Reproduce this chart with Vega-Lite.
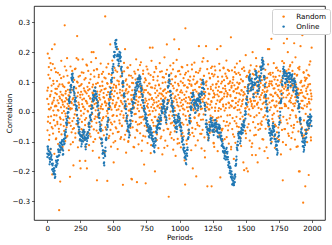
{
"$schema": "https://vega.github.io/schema/vega-lite/v6.json",
"width": 291, "height": 214,
"autosize": {"type": "none"},
"padding": {"left": 34, "top": 6, "right": 7, "bottom": 25},
"background": "white",
"config": {
 "font": "DejaVu Sans",
 "view": {"stroke": "#000", "strokeWidth": 0.8},
 "axis": {"domain": false, "grid": false, "tickColor": "#000", "tickSize": 2.5, "tickWidth": 0.6, "labelFontSize": 7.2, "labelColor": "#000", "labelFont": "DejaVu Sans", "titleFont": "DejaVu Sans", "titleFontSize": 7.2, "titleFontWeight": "normal", "titleColor": "#000", "labelPadding": 2},
 "legend": {"orient": "none", "legendX": 238, "legendY": 3, "strokeColor": "#d0d0d0", "fillColor": "white", "cornerRadius": 2, "padding": 4, "symbolType": "circle", "symbolSize": 6, "labelFontSize": 7.2, "labelFont": "DejaVu Sans", "labelColor": "#000", "rowPadding": 2, "symbolOffset": 4, "labelOffset": 9, "title": null}
},
"datasets": {
"random": [
{"p":0,"v":0.043},{"p":2,"v":-0.062},{"p":4,"v":0.195},{"p":6,"v":0.081},{"p":8,"v":-0.017},{"p":10,"v":0.026},{"p":12,"v":0.15},{"p":14,"v":-0.094},{"p":16,"v":0.18},{"p":18,"v":0.008},
{"p":20,"v":0.112},{"p":22,"v":-0.038},{"p":24,"v":0.057},{"p":26,"v":-0.126},{"p":28,"v":0.014},{"p":30,"v":0.14},{"p":32,"v":0.069},{"p":34,"v":-0.051},{"p":36,"v":0.21},{"p":38,"v":-0.21},
{"p":40,"v":0.032},{"p":42,"v":0.16},{"p":44,"v":-0.073},{"p":46,"v":0.004},{"p":48,"v":0.094},{"p":50,"v":-0.028},{"p":52,"v":0.047},{"p":54,"v":-0.141},{"p":56,"v":0.226},{"p":58,"v":0.018},
{"p":60,"v":-0.046},{"p":62,"v":0.077},{"p":64,"v":0.021},{"p":66,"v":0.133},{"p":68,"v":-0.089},{"p":70,"v":-0.012},{"p":72,"v":0.059},{"p":74,"v":0.103},{"p":76,"v":-0.034},{"p":78,"v":0.038},
{"p":80,"v":0.006},{"p":82,"v":-0.108},{"p":84,"v":0.085},{"p":86,"v":0.029},{"p":88,"v":-0.057},{"p":90,"v":-0.33},{"p":92,"v":0.051},{"p":94,"v":0.124},{"p":96,"v":-0.019},{"p":98,"v":-0.234},
{"p":100,"v":0.067},{"p":102,"v":-0.043},{"p":104,"v":0.015},{"p":106,"v":0.171},{"p":108,"v":-0.076},{"p":110,"v":0.039},{"p":112,"v":-0.004},{"p":114,"v":0.092},{"p":116,"v":-0.118},{"p":118,"v":0.024},
{"p":120,"v":0.055},{"p":122,"v":-0.027},{"p":124,"v":0.118},{"p":126,"v":0.002},{"p":128,"v":-0.064},{"p":130,"v":0.083},{"p":132,"v":0.29},{"p":134,"v":0.035},{"p":136,"v":-0.098},{"p":138,"v":0.061},
{"p":140,"v":-0.015},{"p":142,"v":0.046},{"p":144,"v":0.139},{"p":146,"v":-0.052},{"p":148,"v":0.012},{"p":150,"v":0.18},{"p":152,"v":-0.081},{"p":154,"v":0.027},{"p":156,"v":0.074},{"p":158,"v":-0.036},
{"p":160,"v":0.097},{"p":162,"v":0.019},{"p":164,"v":-0.129},{"p":166,"v":0.054},{"p":168,"v":-0.022},{"p":170,"v":0.065},{"p":172,"v":-0.218},{"p":174,"v":0.008},{"p":176,"v":0.152},{"p":178,"v":-0.047},
{"p":180,"v":0.033},{"p":182,"v":0.088},{"p":184,"v":-0.069},{"p":186,"v":0.011},{"p":188,"v":0.126},{"p":190,"v":-0.031},{"p":192,"v":0.042},{"p":194,"v":-0.102},{"p":196,"v":0.073},{"p":198,"v":-0.18},
{"p":200,"v":0.023},{"p":202,"v":-0.055},{"p":204,"v":0.107},{"p":206,"v":0.061},{"p":208,"v":-0.009},{"p":210,"v":0.036},{"p":212,"v":-0.087},{"p":214,"v":0.145},{"p":216,"v":0.004},{"p":218,"v":0.079},
{"p":220,"v":-0.041},{"p":222,"v":0.18},{"p":224,"v":-0.013},{"p":226,"v":0.254},{"p":228,"v":0.052},{"p":230,"v":0.098},{"p":232,"v":-0.119},{"p":234,"v":0.175},{"p":236,"v":0.031},{"p":238,"v":-0.066},
{"p":240,"v":0.014},{"p":242,"v":0.086},{"p":244,"v":-0.025},{"p":246,"v":-0.165},{"p":248,"v":0.121},{"p":250,"v":0.048},{"p":252,"v":-0.19},{"p":254,"v":0.003},{"p":256,"v":0.067},{"p":258,"v":-0.058},
{"p":260,"v":0.093},{"p":262,"v":-0.034},{"p":264,"v":0.026},{"p":266,"v":0.058},{"p":268,"v":0.176},{"p":270,"v":-0.078},{"p":272,"v":0.017},{"p":274,"v":0.131},{"p":276,"v":-0.006},{"p":278,"v":0.044},
{"p":280,"v":-0.095},{"p":282,"v":0.071},{"p":284,"v":0.009},{"p":286,"v":-0.045},{"p":288,"v":-0.165},{"p":290,"v":0.113},{"p":292,"v":0.037},{"p":294,"v":-0.021},{"p":296,"v":0.158},{"p":298,"v":0.062},
{"p":300,"v":-0.19},{"p":302,"v":0.028},{"p":304,"v":0.084},{"p":306,"v":-0.068},{"p":308,"v":0.001},{"p":310,"v":0.137},{"p":312,"v":-0.039},{"p":314,"v":0.053},{"p":316,"v":-0.112},{"p":318,"v":0.019},
{"p":320,"v":0.076},{"p":322,"v":-0.016},{"p":324,"v":0.045},{"p":326,"v":0.109},{"p":328,"v":-0.083},{"p":330,"v":0.022},{"p":332,"v":0.167},{"p":334,"v":-0.049},{"p":336,"v":0.2},{"p":338,"v":0.034},
{"p":340,"v":-0.007},{"p":342,"v":0.064},{"p":344,"v":-0.131},{"p":346,"v":0.091},{"p":348,"v":0.013},{"p":350,"v":0.2},{"p":352,"v":-0.059},{"p":354,"v":0.039},{"p":356,"v":0.118},{"p":358,"v":-0.024},
{"p":360,"v":0.051},{"p":362,"v":-0.092},{"p":364,"v":0.082},{"p":366,"v":0.005},{"p":368,"v":0.18},{"p":370,"v":0.029},{"p":372,"v":-0.037},{"p":374,"v":0.143},{"p":376,"v":-0.23},{"p":378,"v":0.068},
{"p":380,"v":-0.018},{"p":382,"v":0.097},{"p":384,"v":0.036},{"p":386,"v":-0.071},{"p":388,"v":0.011},{"p":390,"v":0.124},{"p":392,"v":-0.154},{"p":394,"v":0.057},{"p":396,"v":-0.003},{"p":398,"v":0.086},
{"p":400,"v":0.041},{"p":402,"v":-0.044},{"p":404,"v":0.162},{"p":406,"v":0.018},{"p":408,"v":-0.106},{"p":410,"v":0.073},{"p":412,"v":-0.029},{"p":414,"v":0.025},{"p":416,"v":0.101},{"p":418,"v":-0.062},
{"p":420,"v":0.009},{"p":422,"v":0.134},{"p":424,"v":-0.018},{"p":426,"v":0.063},{"p":428,"v":-0.079},{"p":430,"v":0.047},{"p":432,"v":0.115},{"p":434,"v":-0.136},{"p":436,"v":0.031},{"p":438,"v":0.32},
{"p":440,"v":-0.052},{"p":442,"v":0.078},{"p":444,"v":0.021},{"p":446,"v":-0.015},{"p":448,"v":0.149},{"p":450,"v":0.056},{"p":452,"v":0.003},{"p":454,"v":-0.232},{"p":456,"v":0.094},{"p":458,"v":-0.035},
{"p":460,"v":0.066},{"p":462,"v":0.012},{"p":464,"v":-0.088},{"p":466,"v":0.127},{"p":468,"v":0.038},{"p":470,"v":-0.026},{"p":472,"v":0.084},{"p":474,"v":0.017},{"p":476,"v":0.226},{"p":478,"v":-0.061},
{"p":480,"v":0.043},{"p":482,"v":-0.117},{"p":484,"v":0.096},{"p":486,"v":0.007},{"p":488,"v":0.059},{"p":490,"v":-0.042},{"p":492,"v":0.172},{"p":494,"v":0.028},{"p":496,"v":-0.073},{"p":498,"v":0.081},
{"p":500,"v":-0.011},{"p":502,"v":-0.17},{"p":504,"v":0.052},{"p":506,"v":0.114},{"p":508,"v":-0.033},{"p":510,"v":0.069},{"p":512,"v":0.016},{"p":514,"v":-0.098},{"p":516,"v":0.139},{"p":518,"v":0.024},
{"p":520,"v":0.087},{"p":522,"v":-0.056},{"p":524,"v":0.031},{"p":526,"v":-0.014},{"p":528,"v":0.062},{"p":530,"v":0.105},{"p":532,"v":-0.125},{"p":534,"v":0.21},{"p":536,"v":0.045},{"p":538,"v":0.008},
{"p":540,"v":-0.067},{"p":542,"v":0.092},{"p":544,"v":0.153},{"p":546,"v":0.019},{"p":548,"v":-0.039},{"p":550,"v":0.074},{"p":552,"v":-0.009},{"p":554,"v":0.118},{"p":556,"v":0.037},{"p":558,"v":-0.085},
{"p":560,"v":0.055},{"p":562,"v":0.002},{"p":564,"v":-0.048},{"p":566,"v":0.133},{"p":568,"v":0.071},{"p":570,"v":0.026},{"p":572,"v":-0.245},{"p":574,"v":0.089},{"p":576,"v":-0.02},{"p":578,"v":0.047},
{"p":580,"v":0.164},{"p":582,"v":-0.093},{"p":584,"v":0.013},{"p":586,"v":0.061},{"p":588,"v":0.21},{"p":590,"v":-0.031},{"p":592,"v":0.104},{"p":594,"v":0.035},{"p":596,"v":-0.137},{"p":598,"v":0.076},
{"p":600,"v":0.018},{"p":602,"v":-0.064},{"p":604,"v":0.091},{"p":606,"v":0.148},{"p":608,"v":-0.012},{"p":610,"v":0.042},{"p":612,"v":-0.101},{"p":614,"v":0.067},{"p":616,"v":0.004},{"p":618,"v":0.122},
{"p":620,"v":-0.045},{"p":622,"v":0.083},{"p":624,"v":0.027},{"p":626,"v":-0.079},{"p":628,"v":0.157},{"p":630,"v":0.009},{"p":632,"v":-0.029},{"p":634,"v":0.056},{"p":636,"v":-0.225},{"p":638,"v":0.038},
{"p":640,"v":-0.227},{"p":642,"v":0.072},{"p":644,"v":0.114},{"p":646,"v":-0.052},{"p":648,"v":0.021},{"p":650,"v":0.096},{"p":652,"v":-0.118},{"p":654,"v":0.043},{"p":656,"v":0.015},{"p":658,"v":0.135},
{"p":660,"v":-0.008},{"p":662,"v":0.061},{"p":664,"v":-0.087},{"p":666,"v":0.029},{"p":668,"v":0.108},{"p":670,"v":-0.034},{"p":672,"v":0.176},{"p":674,"v":0.052},{"p":676,"v":-0.061},{"p":678,"v":-0.236},
{"p":680,"v":0.093},{"p":682,"v":0.011},{"p":684,"v":-0.043},{"p":686,"v":0.141},{"p":688,"v":0.034},{"p":690,"v":-0.109},{"p":692,"v":0.068},{"p":694,"v":0.002},{"p":696,"v":0.117},{"p":698,"v":-0.019},
{"p":700,"v":0.049},{"p":702,"v":-0.072},{"p":704,"v":0.086},{"p":706,"v":0.023},{"p":708,"v":0.166},{"p":710,"v":-0.037},{"p":712,"v":0.058},{"p":714,"v":-0.131},{"p":716,"v":0.014},{"p":718,"v":0.079},
{"p":720,"v":0.038},{"p":722,"v":-0.016},{"p":724,"v":0.127},{"p":726,"v":-0.081},{"p":728,"v":0.065},{"p":730,"v":0.006},{"p":732,"v":-0.177},{"p":734,"v":0.099},{"p":736,"v":-0.047},{"p":738,"v":0.031},
{"p":740,"v":0.112},{"p":742,"v":0.044},{"p":744,"v":-0.24},{"p":746,"v":0.073},{"p":748,"v":-0.024},{"p":750,"v":0.152},{"p":752,"v":-0.063},{"p":754,"v":0.019},{"p":756,"v":0.087},{"p":758,"v":-0.105},
{"p":760,"v":0.027},{"p":762,"v":0.064},{"p":764,"v":-0.011},{"p":766,"v":0.128},{"p":768,"v":-0.054},{"p":770,"v":0.041},{"p":772,"v":0.003},{"p":774,"v":0.095},{"p":776,"v":0.215},{"p":778,"v":-0.076},
{"p":780,"v":0.057},{"p":782,"v":-0.139},{"p":784,"v":0.082},{"p":786,"v":0.016},{"p":788,"v":0.171},{"p":790,"v":-0.028},{"p":792,"v":0.046},{"p":794,"v":-0.089},{"p":796,"v":0.215},{"p":798,"v":0.024},
{"p":800,"v":-0.036},{"p":802,"v":0.107},{"p":804,"v":0.039},{"p":806,"v":-0.068},{"p":808,"v":0.012},{"p":810,"v":0.133},{"p":812,"v":-0.017},{"p":814,"v":-0.2},{"p":816,"v":0.063},{"p":818,"v":0.088},
{"p":820,"v":0.005},{"p":822,"v":-0.048},{"p":824,"v":0.145},{"p":826,"v":0.032},{"p":828,"v":-0.095},{"p":830,"v":0.071},{"p":832,"v":0.018},{"p":834,"v":-0.026},{"p":836,"v":0.119},{"p":838,"v":0.054},
{"p":840,"v":-0.122},{"p":842,"v":0.036},{"p":844,"v":0.091},{"p":846,"v":-0.009},{"p":848,"v":0.062},{"p":850,"v":0.163},{"p":852,"v":-0.057},{"p":854,"v":0.025},{"p":856,"v":0.078},{"p":858,"v":-0.031},
{"p":860,"v":0.044},{"p":862,"v":-0.083},{"p":864,"v":0.011},{"p":866,"v":0.136},{"p":868,"v":0.058},{"p":870,"v":-0.143},{"p":872,"v":0.097},{"p":874,"v":-0.004},{"p":876,"v":0.069},{"p":878,"v":0.021},
{"p":880,"v":-0.062},{"p":882,"v":0.115},{"p":884,"v":0.034},{"p":886,"v":0.183},{"p":888,"v":-0.019},{"p":890,"v":0.075},{"p":892,"v":-0.097},{"p":894,"v":0.048},{"p":896,"v":0.008},{"p":898,"v":0.127},
{"p":900,"v":0.063},{"p":902,"v":-0.041},{"p":904,"v":0.226},{"p":906,"v":0.015},{"p":908,"v":-0.114},{"p":910,"v":0.086},{"p":912,"v":0.029},{"p":914,"v":-0.058},{"p":916,"v":0.104},{"p":918,"v":-0.285},
{"p":920,"v":0.039},{"p":922,"v":0.122},{"p":924,"v":-0.023},{"p":926,"v":0.067},{"p":928,"v":-0.076},{"p":930,"v":0.155},{"p":932,"v":0.001},{"p":934,"v":-0.039},{"p":936,"v":0.093},{"p":938,"v":0.046},
{"p":940,"v":-0.088},{"p":942,"v":0.027},{"p":944,"v":0.109},{"p":946,"v":-0.014},{"p":948,"v":0.061},{"p":950,"v":0.142},{"p":952,"v":-0.127},{"p":954,"v":0.035},{"p":956,"v":0.079},{"p":958,"v":-0.046},
{"p":960,"v":0.243},{"p":962,"v":0.013},{"p":964,"v":-0.066},{"p":966,"v":0.098},{"p":968,"v":0.052},{"p":970,"v":-0.148},{"p":972,"v":0.119},{"p":974,"v":-0.011},{"p":976,"v":0.041},{"p":978,"v":0.174},
{"p":980,"v":-0.033},{"p":982,"v":0.074},{"p":984,"v":0.022},{"p":986,"v":-0.091},{"p":988,"v":0.136},{"p":990,"v":0.057},{"p":992,"v":-0.018},{"p":994,"v":0.088},{"p":996,"v":0.21},{"p":998,"v":-0.105},
{"p":1000,"v":0.046},{"p":1002,"v":0.005},{"p":1004,"v":-0.052},{"p":1006,"v":0.126},{"p":1008,"v":0.031},{"p":1010,"v":-0.119},{"p":1012,"v":0.072},{"p":1014,"v":0.019},{"p":1016,"v":0.151},{"p":1018,"v":-0.037},
{"p":1020,"v":0.064},{"p":1022,"v":-0.071},{"p":1024,"v":0.097},{"p":1026,"v":0.024},{"p":1028,"v":-0.009},{"p":1030,"v":0.113},{"p":1032,"v":-0.082},{"p":1034,"v":0.042},{"p":1036,"v":0.007},{"p":1038,"v":-0.163},
{"p":1040,"v":0.089},{"p":1042,"v":-0.244},{"p":1044,"v":0.28},{"p":1046,"v":0.035},{"p":1048,"v":0.131},{"p":1050,"v":-0.026},{"p":1052,"v":0.068},{"p":1054,"v":-0.108},{"p":1056,"v":0.015},{"p":1058,"v":0.157},
{"p":1060,"v":-0.044},{"p":1062,"v":0.081},{"p":1064,"v":0.002},{"p":1066,"v":0.107},{"p":1068,"v":-0.063},{"p":1070,"v":0.049},{"p":1072,"v":-0.014},{"p":1074,"v":0.094},{"p":1076,"v":0.028},{"p":1078,"v":-0.077},
{"p":1080,"v":0.118},{"p":1082,"v":0.039},{"p":1084,"v":-0.031},{"p":1086,"v":0.063},{"p":1088,"v":-0.129},{"p":1090,"v":0.087},{"p":1092,"v":0.016},{"p":1094,"v":0.142},{"p":1096,"v":-0.054},{"p":1098,"v":0.024},
{"p":1100,"v":-0.19},{"p":1102,"v":0.072},{"p":1104,"v":0.108},{"p":1106,"v":0.009},{"p":1108,"v":-0.082},{"p":1110,"v":0.051},{"p":1112,"v":0.165},{"p":1114,"v":-0.021},{"p":1116,"v":0.036},{"p":1118,"v":0.093},
{"p":1120,"v":-0.058},{"p":1122,"v":0.026},{"p":1124,"v":0.133},{"p":1126,"v":-0.217},{"p":1128,"v":0.068},{"p":1130,"v":0.004},{"p":1132,"v":-0.037},{"p":1134,"v":0.101},{"p":1136,"v":0.045},{"p":1138,"v":-0.096},
{"p":1140,"v":0.018},{"p":1142,"v":0.062},{"p":1144,"v":-0.013},{"p":1146,"v":0.22},{"p":1148,"v":0.083},{"p":1150,"v":-0.048},{"p":1152,"v":0.138},{"p":1154,"v":0.027},{"p":1156,"v":-0.074},{"p":1158,"v":0.109},
{"p":1160,"v":0.041},{"p":1162,"v":-0.027},{"p":1164,"v":0.092},{"p":1166,"v":-0.123},{"p":1168,"v":0.055},{"p":1170,"v":0.011},{"p":1172,"v":0.168},{"p":1174,"v":-0.061},{"p":1176,"v":0.034},{"p":1178,"v":0.079},
{"p":1180,"v":0.18},{"p":1182,"v":-0.009},{"p":1184,"v":0.121},{"p":1186,"v":0.047},{"p":1188,"v":-0.086},{"p":1190,"v":0.022},{"p":1192,"v":-0.153},{"p":1194,"v":0.066},{"p":1196,"v":0.003},{"p":1198,"v":0.098},
{"p":1200,"v":0.22},{"p":1202,"v":0.031},{"p":1204,"v":0.102},{"p":1206,"v":-0.052},{"p":1208,"v":0.015},{"p":1210,"v":-0.25},{"p":1212,"v":0.17},{"p":1214,"v":0.077},{"p":1216,"v":-0.094},{"p":1218,"v":0.043},
{"p":1220,"v":0.008},{"p":1222,"v":0.129},{"p":1224,"v":-0.035},{"p":1226,"v":0.059},{"p":1228,"v":-0.071},{"p":1230,"v":0.112},{"p":1232,"v":0.024},{"p":1234,"v":-0.013},{"p":1236,"v":0.084},{"p":1238,"v":0.147},
{"p":1240,"v":0.036},{"p":1242,"v":-0.25},{"p":1244,"v":0.014},{"p":1246,"v":0.152},{"p":1248,"v":-0.067},{"p":1250,"v":0.091},{"p":1252,"v":0.048},{"p":1254,"v":-0.029},{"p":1256,"v":0.119},{"p":1258,"v":-0.106},
{"p":1260,"v":0.062},{"p":1262,"v":-0.118},{"p":1264,"v":0.125},{"p":1266,"v":0.057},{"p":1268,"v":0.003},{"p":1270,"v":0.139},{"p":1272,"v":-0.041},{"p":1274,"v":0.081},{"p":1276,"v":0.027},{"p":1278,"v":-0.056},
{"p":1280,"v":0.094},{"p":1282,"v":-0.021},{"p":1284,"v":0.21},{"p":1286,"v":0.038},{"p":1288,"v":-0.132},{"p":1290,"v":0.071},{"p":1292,"v":0.102},{"p":1294,"v":-0.019},{"p":1296,"v":0.052},{"p":1298,"v":0.012},
{"p":1300,"v":0.161},{"p":1302,"v":-0.083},{"p":1304,"v":0.033},{"p":1306,"v":0.066},{"p":1308,"v":-0.22},{"p":1310,"v":0.22},{"p":1312,"v":0.009},{"p":1314,"v":0.095},{"p":1316,"v":-0.059},{"p":1318,"v":0.042},
{"p":1320,"v":-0.063},{"p":1322,"v":0.118},{"p":1324,"v":0.045},{"p":1326,"v":-0.097},{"p":1328,"v":0.079},{"p":1330,"v":0.018},{"p":1332,"v":0.148},{"p":1334,"v":-0.031},{"p":1336,"v":0.106},{"p":1338,"v":0.061},
{"p":1340,"v":0.004},{"p":1342,"v":-0.139},{"p":1344,"v":0.087},{"p":1346,"v":0.128},{"p":1348,"v":-0.047},{"p":1350,"v":0.069},{"p":1352,"v":0.025},{"p":1354,"v":0.172},{"p":1356,"v":-0.085},{"p":1358,"v":0.051},
{"p":1360,"v":0.113},{"p":1362,"v":-0.012},{"p":1364,"v":0.058},{"p":1366,"v":-0.062},{"p":1368,"v":0.094},{"p":1370,"v":0.031},{"p":1372,"v":-0.107},{"p":1374,"v":0.137},{"p":1376,"v":0.014},{"p":1378,"v":0.073},
{"p":1380,"v":-0.039},{"p":1382,"v":0.102},{"p":1384,"v":0.056},{"p":1386,"v":0.022},{"p":1388,"v":0.25},{"p":1390,"v":-0.118},{"p":1392,"v":0.081},{"p":1394,"v":0.018},{"p":1396,"v":0.139},{"p":1398,"v":-0.058},
{"p":1400,"v":0.097},{"p":1402,"v":0.037},{"p":1404,"v":-0.076},{"p":1406,"v":0.116},{"p":1408,"v":0.068},{"p":1410,"v":-0.158},{"p":1412,"v":0.012},{"p":1414,"v":0.089},{"p":1416,"v":-0.031},{"p":1418,"v":0.149},
{"p":1420,"v":0.046},{"p":1422,"v":-0.104},{"p":1424,"v":0.076},{"p":1426,"v":0.029},{"p":1428,"v":0.127},{"p":1430,"v":-0.017},{"p":1432,"v":0.063},{"p":1434,"v":-0.049},{"p":1436,"v":0.098},{"p":1438,"v":0.006},
{"p":1440,"v":-0.113},{"p":1442,"v":0.082},{"p":1444,"v":0.034},{"p":1446,"v":0.131},{"p":1448,"v":-0.051},{"p":1450,"v":0.062},{"p":1452,"v":0.007},{"p":1454,"v":0.096},{"p":1456,"v":0.17},{"p":1458,"v":-0.024},
{"p":1460,"v":0.058},{"p":1462,"v":-0.088},{"p":1464,"v":0.109},{"p":1466,"v":0.019},{"p":1468,"v":0.073},{"p":1470,"v":-0.042},{"p":1472,"v":0.144},{"p":1474,"v":0.026},{"p":1476,"v":-0.016},{"p":1478,"v":0.102},
{"p":1480,"v":0.041},{"p":1482,"v":-0.17},{"p":1484,"v":0.066},{"p":1486,"v":-0.028},{"p":1488,"v":-0.196},{"p":1490,"v":0.137},{"p":1492,"v":0.059},{"p":1494,"v":0.083},{"p":1496,"v":-0.064},{"p":1498,"v":0.012},
{"p":1500,"v":0.19},{"p":1502,"v":-0.073},{"p":1504,"v":0.044},{"p":1506,"v":-0.19},{"p":1508,"v":0.052},{"p":1510,"v":0.121},{"p":1512,"v":0.017},{"p":1514,"v":0.078},{"p":1516,"v":-0.2},{"p":1518,"v":0.032},
{"p":1520,"v":0.091},{"p":1522,"v":-0.041},{"p":1524,"v":0.132},{"p":1526,"v":0.008},{"p":1528,"v":0.069},{"p":1530,"v":-0.097},{"p":1532,"v":0.113},{"p":1534,"v":0.043},{"p":1536,"v":-0.014},{"p":1538,"v":0.156},
{"p":1540,"v":0.036},{"p":1542,"v":0.074},{"p":1544,"v":-0.118},{"p":1546,"v":0.026},{"p":1548,"v":-0.145},{"p":1550,"v":0.087},{"p":1552,"v":0.2},{"p":1554,"v":0.012},{"p":1556,"v":-0.035},{"p":1558,"v":0.081},
{"p":1560,"v":0.059},{"p":1562,"v":0.124},{"p":1564,"v":-0.079},{"p":1566,"v":0.018},{"p":1568,"v":0.142},{"p":1570,"v":0.037},{"p":1572,"v":-0.053},{"p":1574,"v":0.096},{"p":1576,"v":-0.145},{"p":1578,"v":0.18},
{"p":1580,"v":0.051},{"p":1582,"v":-0.012},{"p":1584,"v":0.089},{"p":1586,"v":0.024},{"p":1588,"v":0.064},{"p":1590,"v":-0.17},{"p":1592,"v":0.031},{"p":1594,"v":0.103},{"p":1596,"v":-0.061},{"p":1598,"v":0.135},
{"p":1600,"v":0.072},{"p":1602,"v":-0.004},{"p":1604,"v":-0.123},{"p":1606,"v":0.083},{"p":1608,"v":0.152},{"p":1610,"v":0.041},{"p":1612,"v":-0.039},{"p":1614,"v":0.117},{"p":1616,"v":0.056},{"p":1618,"v":0.009},
{"p":1620,"v":-0.044},{"p":1622,"v":0.106},{"p":1624,"v":0.063},{"p":1626,"v":-0.092},{"p":1628,"v":0.027},{"p":1630,"v":0.173},{"p":1632,"v":0.089},{"p":1634,"v":-0.018},{"p":1636,"v":0.121},{"p":1638,"v":0.047},
{"p":1640,"v":0.053},{"p":1642,"v":-0.132},{"p":1644,"v":0.081},{"p":1646,"v":0.014},{"p":1648,"v":0.141},{"p":1650,"v":-0.057},{"p":1652,"v":0.033},{"p":1654,"v":0.098},{"p":1656,"v":-0.026},{"p":1658,"v":0.067},
{"p":1660,"v":0.003},{"p":1662,"v":0.114},{"p":1664,"v":0.071},{"p":1666,"v":-0.155},{"p":1668,"v":0.21},{"p":1670,"v":0.045},{"p":1672,"v":-0.049},{"p":1674,"v":0.127},{"p":1676,"v":0.086},{"p":1678,"v":0.21},
{"p":1680,"v":0.031},{"p":1682,"v":0.102},{"p":1684,"v":-0.072},{"p":1686,"v":0.058},{"p":1688,"v":0.124},{"p":1690,"v":0.015},{"p":1692,"v":0.094},{"p":1694,"v":0.245},{"p":1696,"v":-0.101},{"p":1698,"v":0.037},
{"p":1700,"v":0.089},{"p":1702,"v":-0.011},{"p":1704,"v":0.131},{"p":1706,"v":0.052},{"p":1708,"v":-0.034},{"p":1710,"v":0.078},{"p":1712,"v":0.163},{"p":1714,"v":-0.083},{"p":1716,"v":0.021},{"p":1718,"v":0.108},
{"p":1720,"v":-0.121},{"p":1722,"v":0.062},{"p":1724,"v":0.016},{"p":1726,"v":0.117},{"p":1728,"v":-0.048},{"p":1730,"v":0.093},{"p":1732,"v":0.035},{"p":1734,"v":0.148},{"p":1736,"v":-0.069},{"p":1738,"v":0.057},
{"p":1740,"v":0.002},{"p":1742,"v":0.087},{"p":1744,"v":0.139},{"p":1746,"v":-0.053},{"p":1748,"v":0.074},{"p":1750,"v":0.029},{"p":1752,"v":-0.094},{"p":1754,"v":0.121},{"p":1756,"v":0.046},{"p":1758,"v":0.012},
{"p":1760,"v":0.068},{"p":1762,"v":-0.029},{"p":1764,"v":0.099},{"p":1766,"v":-0.143},{"p":1768,"v":0.041},{"p":1770,"v":0.106},{"p":1772,"v":0.056},{"p":1774,"v":-0.061},{"p":1776,"v":0.17},{"p":1778,"v":0.084},
{"p":1780,"v":-0.23},{"p":1782,"v":0.063},{"p":1784,"v":-0.017},{"p":1786,"v":0.129},{"p":1788,"v":0.23},{"p":1790,"v":0.077},{"p":1792,"v":-0.058},{"p":1794,"v":0.134},{"p":1796,"v":0.019},{"p":1798,"v":0.095},
{"p":1800,"v":0.024},{"p":1802,"v":0.091},{"p":1804,"v":-0.111},{"p":1806,"v":0.048},{"p":1808,"v":0.137},{"p":1810,"v":0.072},{"p":1812,"v":0.245},{"p":1814,"v":0.118},{"p":1816,"v":-0.039},{"p":1818,"v":0.2},
{"p":1820,"v":0.073},{"p":1822,"v":0.012},{"p":1824,"v":0.142},{"p":1826,"v":-0.081},{"p":1828,"v":0.061},{"p":1830,"v":0.099},{"p":1832,"v":-0.022},{"p":1834,"v":0.038},{"p":1836,"v":0.157},{"p":1838,"v":-0.126},
{"p":1840,"v":0.082},{"p":1842,"v":0.031},{"p":1844,"v":-0.047},{"p":1846,"v":0.113},{"p":1848,"v":0.054},{"p":1850,"v":0.006},{"p":1852,"v":0.166},{"p":1854,"v":-0.069},{"p":1856,"v":0.088},{"p":1858,"v":0.027},
{"p":1860,"v":0.109},{"p":1862,"v":-0.054},{"p":1864,"v":0.071},{"p":1866,"v":0.23},{"p":1868,"v":0.019},{"p":1870,"v":0.127},{"p":1872,"v":-0.093},{"p":1874,"v":0.049},{"p":1876,"v":0.183},{"p":1878,"v":-0.013},
{"p":1880,"v":0.092},{"p":1882,"v":0.038},{"p":1884,"v":-0.118},{"p":1886,"v":0.121},{"p":1888,"v":0.063},{"p":1890,"v":-0.034},{"p":1892,"v":0.079},{"p":1894,"v":0.011},{"p":1896,"v":0.147},{"p":1898,"v":-0.066},
{"p":1900,"v":0.056},{"p":1902,"v":-0.2},{"p":1904,"v":0.062},{"p":1906,"v":0.151},{"p":1908,"v":-0.2},{"p":1910,"v":0.027},{"p":1912,"v":0.098},{"p":1914,"v":0.22},{"p":1916,"v":-0.042},{"p":1918,"v":0.073},
{"p":1920,"v":0.104},{"p":1922,"v":0.013},{"p":1924,"v":-0.077},{"p":1926,"v":0.064},{"p":1928,"v":0.257},{"p":1930,"v":0.037},{"p":1932,"v":-0.085},{"p":1934,"v":-0.305},{"p":1936,"v":0.052},{"p":1938,"v":0.131},
{"p":1940,"v":-0.029},{"p":1942,"v":0.088},{"p":1944,"v":0.021},{"p":1946,"v":0.115},{"p":1948,"v":-0.061},{"p":1950,"v":-0.25},{"p":1952,"v":0.046},{"p":1954,"v":0.109},{"p":1956,"v":-0.068},{"p":1958,"v":0.078},
{"p":1960,"v":0.139},{"p":1962,"v":0.017},{"p":1964,"v":-0.102},{"p":1966,"v":0.059},{"p":1968,"v":0.084},{"p":1970,"v":-0.015},{"p":1972,"v":0.124},{"p":1974,"v":-0.05},{"p":1976,"v":-0.212},{"p":1978,"v":0.033},
{"p":1980,"v":0.121},{"p":1982,"v":0.028},{"p":1984,"v":-0.044},{"p":1986,"v":0.093},{"p":1988,"v":0.169},{"p":1990,"v":0.007},{"p":1992,"v":-0.086},{"p":1994,"v":0.061},{"p":1996,"v":0.042},{"p":1998,"v":0.215},
{"p":1,"v":0.071},{"p":5,"v":-0.033},{"p":9,"v":0.124},{"p":13,"v":0.009},{"p":17,"v":-0.078},{"p":21,"v":0.052},{"p":25,"v":0.163},{"p":29,"v":-0.015},{"p":33,"v":0.088},{"p":37,"v":0.027},
{"p":41,"v":-0.056},{"p":45,"v":0.104},{"p":49,"v":0.038},{"p":53,"v":-0.011},{"p":57,"v":0.146},{"p":61,"v":0.063},{"p":65,"v":-0.092},{"p":69,"v":0.019},{"p":73,"v":0.077},{"p":77,"v":-0.041},
{"p":81,"v":0.131},{"p":85,"v":0.004},{"p":89,"v":-0.067},{"p":93,"v":0.092},{"p":97,"v":0.045},{"p":101,"v":-0.024},{"p":105,"v":0.113},{"p":109,"v":0.058},{"p":113,"v":-0.127},{"p":117,"v":0.033},
{"p":121,"v":0.086},{"p":125,"v":-0.048},{"p":129,"v":0.017},{"p":133,"v":0.152},{"p":137,"v":-0.006},{"p":141,"v":0.069},{"p":145,"v":-0.085},{"p":149,"v":0.041},{"p":153,"v":0.121},{"p":157,"v":-0.019},
{"p":161,"v":0.055},{"p":165,"v":0.098},{"p":169,"v":-0.037},{"p":173,"v":0.012},{"p":177,"v":-0.109},{"p":181,"v":0.074},{"p":185,"v":0.029},{"p":189,"v":0.137},{"p":193,"v":-0.058},{"p":197,"v":0.046},
{"p":201,"v":-0.021},{"p":205,"v":0.083},{"p":209,"v":0.143},{"p":213,"v":-0.072},{"p":217,"v":0.036},{"p":221,"v":0.007},{"p":225,"v":0.101},{"p":229,"v":-0.043},{"p":233,"v":0.064},{"p":237,"v":0.118},
{"p":241,"v":0.024},{"p":245,"v":-0.096},{"p":249,"v":0.057},{"p":253,"v":0.089},{"p":257,"v":-0.013},{"p":261,"v":0.132},{"p":265,"v":0.041},{"p":269,"v":-0.061},{"p":273,"v":0.016},{"p":277,"v":0.079},
{"p":281,"v":0.108},{"p":285,"v":-0.027},{"p":289,"v":0.067},{"p":293,"v":-0.118},{"p":297,"v":0.034},{"p":301,"v":0.155},{"p":305,"v":0.003},{"p":309,"v":0.072},{"p":313,"v":-0.049},{"p":317,"v":0.097},
{"p":321,"v":-0.074},{"p":325,"v":0.045},{"p":329,"v":0.126},{"p":333,"v":0.018},{"p":337,"v":-0.032},{"p":341,"v":0.083},{"p":345,"v":0.061},{"p":349,"v":-0.101},{"p":353,"v":0.139},{"p":357,"v":0.026},
{"p":361,"v":0.053},{"p":365,"v":-0.016},{"p":369,"v":0.094},{"p":373,"v":-0.063},{"p":377,"v":0.142},{"p":381,"v":0.031},{"p":385,"v":-0.008},{"p":389,"v":0.116},{"p":393,"v":0.047},{"p":397,"v":-0.087},
{"p":401,"v":0.068},{"p":405,"v":0.011},{"p":409,"v":-0.044},{"p":413,"v":0.127},{"p":417,"v":0.087},{"p":421,"v":-0.022},{"p":425,"v":0.049},{"p":429,"v":-0.135},{"p":433,"v":0.076},{"p":437,"v":0.035},
{"p":441,"v":0.112},{"p":445,"v":-0.059},{"p":449,"v":0.028},{"p":453,"v":0.096},{"p":457,"v":-0.005},{"p":461,"v":0.161},{"p":465,"v":0.043},{"p":469,"v":-0.081},{"p":473,"v":0.058},{"p":477,"v":0.015},
{"p":481,"v":-0.036},{"p":485,"v":0.124},{"p":489,"v":0.072},{"p":493,"v":-0.014},{"p":497,"v":0.039},{"p":501,"v":-0.103},{"p":505,"v":0.091},{"p":509,"v":0.147},{"p":513,"v":0.021},{"p":517,"v":-0.052},
{"p":521,"v":0.081},{"p":525,"v":0.006},{"p":529,"v":0.134},{"p":533,"v":-0.068},{"p":537,"v":0.047},{"p":541,"v":0.102},{"p":545,"v":-0.029},{"p":549,"v":0.064},{"p":553,"v":-0.091},{"p":557,"v":0.119},
{"p":561,"v":0.032},{"p":565,"v":-0.046},{"p":569,"v":0.093},{"p":573,"v":0.055},{"p":577,"v":-0.012},{"p":581,"v":0.136},{"p":585,"v":0.019},{"p":589,"v":-0.077},{"p":593,"v":0.071},{"p":597,"v":0.109},
{"p":601,"v":-0.023},{"p":605,"v":0.062},{"p":609,"v":0.148},{"p":613,"v":-0.098},{"p":617,"v":0.027},{"p":621,"v":0.085},{"p":625,"v":0.004},{"p":629,"v":-0.054},{"p":633,"v":0.121},{"p":637,"v":0.042},
{"p":641,"v":0.097},{"p":645,"v":-0.031},{"p":649,"v":0.056},{"p":653,"v":0.011},{"p":657,"v":-0.119},{"p":661,"v":0.074},{"p":665,"v":0.128},{"p":669,"v":-0.007},{"p":673,"v":0.039},{"p":677,"v":0.091},
{"p":681,"v":-0.064},{"p":685,"v":0.023},{"p":689,"v":0.113},{"p":693,"v":0.048},{"p":697,"v":-0.041},{"p":701,"v":0.157},{"p":705,"v":0.066},{"p":709,"v":-0.018},{"p":713,"v":0.084},{"p":717,"v":-0.097},
{"p":721,"v":0.051},{"p":725,"v":0.138},{"p":729,"v":-0.026},{"p":733,"v":0.073},{"p":737,"v":0.009},{"p":741,"v":-0.083},{"p":745,"v":0.106},{"p":749,"v":0.037},{"p":753,"v":-0.051},{"p":757,"v":0.142},
{"p":761,"v":0.014},{"p":765,"v":-0.066},{"p":769,"v":0.095},{"p":773,"v":0.059},{"p":777,"v":-0.009},{"p":781,"v":0.123},{"p":785,"v":-0.112},{"p":789,"v":0.043},{"p":793,"v":0.081},{"p":797,"v":0.002},
{"p":801,"v":0.117},{"p":805,"v":-0.047},{"p":809,"v":0.031},{"p":813,"v":0.079},{"p":817,"v":-0.017},{"p":821,"v":0.151},{"p":825,"v":0.048},{"p":829,"v":-0.076},{"p":833,"v":0.105},{"p":837,"v":0.021},
{"p":841,"v":-0.038},{"p":845,"v":0.089},{"p":849,"v":0.013},{"p":853,"v":0.134},{"p":857,"v":-0.089},{"p":861,"v":0.061},{"p":865,"v":0.026},{"p":869,"v":-0.004},{"p":873,"v":0.116},{"p":877,"v":0.053},
{"p":881,"v":0.072},{"p":885,"v":-0.121},{"p":889,"v":0.044},{"p":893,"v":0.099},{"p":897,"v":-0.028},{"p":901,"v":0.008},{"p":905,"v":0.141},{"p":909,"v":-0.057},{"p":913,"v":0.067},{"p":917,"v":0.035},
{"p":921,"v":-0.012},{"p":925,"v":0.108},{"p":929,"v":0.053},{"p":933,"v":-0.069},{"p":937,"v":0.129},{"p":941,"v":0.024},{"p":945,"v":-0.036},{"p":949,"v":0.087},{"p":953,"v":0.163},{"p":957,"v":-0.094},
{"p":961,"v":0.046},{"p":965,"v":0.003},{"p":969,"v":0.118},{"p":973,"v":-0.052},{"p":977,"v":0.071},{"p":981,"v":0.032},{"p":985,"v":-0.107},{"p":989,"v":0.094},{"p":993,"v":0.018},{"p":997,"v":0.137},
{"p":1001,"v":-0.025},{"p":1005,"v":0.066},{"p":1009,"v":0.102},{"p":1013,"v":-0.081},{"p":1017,"v":0.039},{"p":1021,"v":0.149},{"p":1025,"v":0.011},{"p":1029,"v":-0.043},{"p":1033,"v":0.088},{"p":1037,"v":0.057},
{"p":1041,"v":0.125},{"p":1045,"v":-0.014},{"p":1049,"v":0.047},{"p":1053,"v":-0.096},{"p":1057,"v":0.082},{"p":1061,"v":0.029},{"p":1065,"v":0.136},{"p":1069,"v":-0.061},{"p":1073,"v":0.016},{"p":1077,"v":0.104},
{"p":1081,"v":0.043},{"p":1085,"v":-0.033},{"p":1089,"v":0.091},{"p":1093,"v":0.158},{"p":1097,"v":-0.071},{"p":1101,"v":0.062},{"p":1105,"v":0.005},{"p":1109,"v":0.119},{"p":1113,"v":-0.019},{"p":1117,"v":0.074},
{"p":1121,"v":-0.113},{"p":1125,"v":0.036},{"p":1129,"v":0.097},{"p":1133,"v":0.021},{"p":1137,"v":-0.045},{"p":1141,"v":0.131},{"p":1145,"v":0.058},{"p":1149,"v":-0.008},{"p":1153,"v":0.083},{"p":1157,"v":0.145},
{"p":1161,"v":0.009},{"p":1165,"v":-0.074},{"p":1169,"v":0.106},{"p":1173,"v":0.042},{"p":1177,"v":-0.026},{"p":1181,"v":0.068},{"p":1185,"v":0.121},{"p":1189,"v":-0.131},{"p":1193,"v":0.054},{"p":1197,"v":0.017},
{"p":1201,"v":0.089},{"p":1205,"v":-0.039},{"p":1209,"v":0.143},{"p":1213,"v":0.026},{"p":1217,"v":-0.087},{"p":1221,"v":0.061},{"p":1225,"v":0.008},{"p":1229,"v":0.114},{"p":1233,"v":-0.053},{"p":1237,"v":0.076},
{"p":1241,"v":0.033},{"p":1245,"v":0.127},{"p":1249,"v":-0.018},{"p":1253,"v":0.071},{"p":1257,"v":-0.104},{"p":1261,"v":0.049},{"p":1265,"v":0.152},{"p":1269,"v":0.014},{"p":1273,"v":-0.064},{"p":1277,"v":0.092},
{"p":1281,"v":-0.031},{"p":1285,"v":0.058},{"p":1289,"v":0.117},{"p":1293,"v":0.003},{"p":1297,"v":0.084},{"p":1301,"v":-0.078},{"p":1305,"v":0.139},{"p":1309,"v":0.039},{"p":1313,"v":-0.016},{"p":1317,"v":0.066},
{"p":1321,"v":0.101},{"p":1325,"v":-0.057},{"p":1329,"v":0.024},{"p":1333,"v":0.146},{"p":1337,"v":0.051},{"p":1341,"v":-0.092},{"p":1345,"v":0.077},{"p":1349,"v":0.012},{"p":1353,"v":0.119},{"p":1357,"v":-0.034},
{"p":1361,"v":0.063},{"p":1365,"v":0.141},{"p":1369,"v":-0.046},{"p":1373,"v":0.029},{"p":1377,"v":0.096},{"p":1381,"v":-0.011},{"p":1385,"v":0.052},{"p":1389,"v":-0.126},{"p":1393,"v":0.087},{"p":1397,"v":0.037},
{"p":1401,"v":-0.021},{"p":1405,"v":0.108},{"p":1409,"v":0.069},{"p":1413,"v":-0.084},{"p":1417,"v":0.133},{"p":1421,"v":0.015},{"p":1425,"v":0.047},{"p":1429,"v":-0.039},{"p":1433,"v":0.162},{"p":1437,"v":0.078},
{"p":1441,"v":0.022},{"p":1445,"v":-0.067},{"p":1449,"v":0.093},{"p":1453,"v":0.041},{"p":1457,"v":0.124},{"p":1461,"v":-0.003},{"p":1465,"v":-0.115},{"p":1469,"v":0.071},{"p":1473,"v":0.036},{"p":1477,"v":0.104},
{"p":1481,"v":0.055},{"p":1485,"v":0.149},{"p":1489,"v":-0.029},{"p":1493,"v":0.083},{"p":1497,"v":0.011},{"p":1501,"v":-0.088},{"p":1505,"v":0.117},{"p":1509,"v":0.046},{"p":1513,"v":-0.052},{"p":1517,"v":0.068},
{"p":1521,"v":-0.009},{"p":1525,"v":0.092},{"p":1529,"v":0.138},{"p":1533,"v":-0.063},{"p":1537,"v":0.034},{"p":1541,"v":0.075},{"p":1545,"v":0.019},{"p":1549,"v":-0.106},{"p":1553,"v":0.127},{"p":1557,"v":0.058},
{"p":1561,"v":0.037},{"p":1565,"v":-0.018},{"p":1569,"v":0.109},{"p":1573,"v":0.064},{"p":1577,"v":-0.077},{"p":1581,"v":0.153},{"p":1585,"v":0.027},{"p":1589,"v":0.086},{"p":1593,"v":-0.041},{"p":1597,"v":0.013},
{"p":1601,"v":0.121},{"p":1605,"v":0.049},{"p":1609,"v":-0.057},{"p":1613,"v":0.096},{"p":1617,"v":0.008},{"p":1621,"v":-0.032},{"p":1625,"v":0.144},{"p":1629,"v":0.073},{"p":1633,"v":-0.093},{"p":1637,"v":0.031},
{"p":1641,"v":0.067},{"p":1645,"v":-0.012},{"p":1649,"v":0.112},{"p":1653,"v":0.044},{"p":1657,"v":-0.119},{"p":1661,"v":0.082},{"p":1665,"v":0.025},{"p":1669,"v":0.159},{"p":1673,"v":-0.048},{"p":1677,"v":0.094},
{"p":1681,"v":0.006},{"p":1685,"v":0.131},{"p":1689,"v":-0.071},{"p":1693,"v":0.057},{"p":1697,"v":0.102},{"p":1701,"v":-0.024},{"p":1705,"v":0.038},{"p":1709,"v":0.118},{"p":1713,"v":-0.006},{"p":1717,"v":0.079},
{"p":1721,"v":-0.043},{"p":1725,"v":0.064},{"p":1729,"v":0.147},{"p":1733,"v":0.021},{"p":1737,"v":-0.089},{"p":1741,"v":0.106},{"p":1745,"v":0.052},{"p":1749,"v":-0.015},{"p":1753,"v":0.089},{"p":1757,"v":0.033},
{"p":1761,"v":0.136},{"p":1765,"v":-0.036},{"p":1769,"v":0.071},{"p":1773,"v":0.012},{"p":1777,"v":0.115},{"p":1781,"v":-0.102},{"p":1785,"v":0.048},{"p":1789,"v":0.163},{"p":1793,"v":0.027},{"p":1797,"v":-0.058},
{"p":1801,"v":0.084},{"p":1805,"v":0.019},{"p":1809,"v":-0.027},{"p":1813,"v":0.128},{"p":1817,"v":0.056},{"p":1821,"v":-0.073},{"p":1825,"v":0.101},{"p":1829,"v":0.035},{"p":1833,"v":0.152},{"p":1837,"v":-0.011},
{"p":1841,"v":0.046},{"p":1845,"v":-0.088},{"p":1849,"v":0.093},{"p":1853,"v":0.137},{"p":1857,"v":0.004},{"p":1861,"v":0.067},{"p":1865,"v":-0.044},{"p":1869,"v":0.111},{"p":1873,"v":0.028},{"p":1877,"v":0.081},
{"p":1881,"v":-0.019},{"p":1885,"v":0.054},{"p":1889,"v":0.124},{"p":1893,"v":-0.116},{"p":1897,"v":0.076},{"p":1901,"v":0.018},{"p":1905,"v":0.142},{"p":1909,"v":-0.034},{"p":1913,"v":0.063},{"p":1917,"v":0.099},
{"p":1921,"v":0.037},{"p":1925,"v":-0.052},{"p":1929,"v":0.085},{"p":1933,"v":0.011},{"p":1937,"v":0.133},{"p":1941,"v":-0.079},{"p":1945,"v":0.048},{"p":1949,"v":0.104},{"p":1953,"v":-0.007},{"p":1957,"v":0.069},
{"p":1961,"v":0.113},{"p":1965,"v":0.026},{"p":1969,"v":-0.061},{"p":1973,"v":0.091},{"p":1977,"v":0.043},{"p":1981,"v":0.158},{"p":1985,"v":-0.023},{"p":1989,"v":0.072},{"p":1993,"v":-0.096},{"p":1997,"v":0.052}
],
"online": [
{"p":0,"v":-0.14},{"p":5,"v":-0.125},{"p":10,"v":-0.13},{"p":15,"v":-0.155},{"p":20,"v":-0.16},{"p":25,"v":-0.14},{"p":30,"v":-0.15},{"p":35,"v":-0.175},{"p":40,"v":-0.18},{"p":45,"v":-0.2},
{"p":50,"v":-0.19},{"p":55,"v":-0.21},{"p":60,"v":-0.21},{"p":65,"v":-0.18},{"p":70,"v":-0.17},{"p":75,"v":-0.165},{"p":80,"v":-0.15},{"p":85,"v":-0.135},{"p":90,"v":-0.13},{"p":95,"v":-0.115},
{"p":100,"v":-0.12},{"p":105,"v":-0.12},{"p":110,"v":-0.10},{"p":115,"v":-0.125},{"p":120,"v":-0.13},{"p":125,"v":-0.1},{"p":130,"v":-0.09},{"p":135,"v":-0.08},{"p":140,"v":-0.06},{"p":145,"v":-0.04},
{"p":150,"v":-0.03},{"p":155,"v":-0.015},{"p":160,"v":0.01},{"p":165,"v":0.035},{"p":170,"v":0.05},{"p":175,"v":0.075},{"p":180,"v":0.09},{"p":185,"v":0.11},{"p":190,"v":0.12},{"p":195,"v":0.1},
{"p":200,"v":0.08},{"p":205,"v":0.055},{"p":210,"v":0.04},{"p":215,"v":0.035},{"p":220,"v":0.02},{"p":225,"v":-0.01},{"p":230,"v":-0.03},{"p":235,"v":-0.05},{"p":240,"v":-0.06},{"p":245,"v":-0.075},
{"p":250,"v":-0.08},{"p":255,"v":-0.095},{"p":260,"v":-0.10},{"p":265,"v":-0.085},{"p":270,"v":-0.09},{"p":275,"v":-0.075},{"p":280,"v":-0.07},{"p":285,"v":-0.095},{"p":290,"v":-0.11},{"p":295,"v":-0.09},
{"p":300,"v":-0.09},{"p":305,"v":-0.085},{"p":310,"v":-0.07},{"p":315,"v":-0.05},{"p":320,"v":-0.04},{"p":325,"v":-0.02},{"p":330,"v":-0.01},{"p":335,"v":0.01},{"p":340,"v":0.02},{"p":345,"v":0.04},
{"p":350,"v":0.05},{"p":355,"v":0.055},{"p":360,"v":0.07},{"p":365,"v":0.06},{"p":370,"v":0.06},{"p":375,"v":0.04},{"p":380,"v":0.03},{"p":385,"v":0.005},{"p":390,"v":-0.01},{"p":395,"v":-0.035},
{"p":400,"v":-0.05},{"p":405,"v":-0.065},{"p":410,"v":-0.09},{"p":415,"v":-0.115},{"p":420,"v":-0.13},{"p":425,"v":-0.155},{"p":430,"v":-0.17},{"p":435,"v":-0.145},{"p":440,"v":-0.12},{"p":445,"v":-0.095},
{"p":450,"v":-0.06},{"p":455,"v":-0.045},{"p":460,"v":-0.02},{"p":465,"v":0.01},{"p":470,"v":0.03},{"p":475,"v":0.05},{"p":480,"v":0.08},{"p":485,"v":0.1},{"p":490,"v":0.13},{"p":495,"v":0.14},
{"p":500,"v":0.16},{"p":505,"v":0.185},{"p":510,"v":0.2},{"p":515,"v":0.225},{"p":520,"v":0.24},{"p":525,"v":0.21},{"p":530,"v":0.19},{"p":535,"v":0.175},{"p":540,"v":0.17},{"p":545,"v":0.185},
{"p":550,"v":0.19},{"p":555,"v":0.17},{"p":560,"v":0.15},{"p":565,"v":0.12},{"p":570,"v":0.1},{"p":575,"v":0.085},{"p":580,"v":0.06},{"p":585,"v":0.035},{"p":590,"v":0.02},{"p":595,"v":-0.005},
{"p":600,"v":-0.02},{"p":605,"v":-0.04},{"p":610,"v":-0.05},{"p":615,"v":-0.065},{"p":620,"v":-0.07},{"p":625,"v":-0.045},{"p":630,"v":-0.03},{"p":635,"v":-0.005},{"p":640,"v":0.01},{"p":645,"v":0.025},
{"p":650,"v":0.03},{"p":655,"v":0.045},{"p":660,"v":0.05},{"p":665,"v":0.065},{"p":670,"v":0.07},{"p":675,"v":0.085},{"p":680,"v":0.09},{"p":685,"v":0.1},{"p":690,"v":0.1},{"p":695,"v":0.11},
{"p":700,"v":0.11},{"p":705,"v":0.095},{"p":710,"v":0.08},{"p":715,"v":0.06},{"p":720,"v":0.05},{"p":725,"v":0.03},{"p":730,"v":0.02},{"p":735,"v":0.0},{"p":740,"v":-0.01},{"p":745,"v":-0.025},
{"p":750,"v":-0.03},{"p":755,"v":-0.045},{"p":760,"v":-0.05},{"p":765,"v":-0.065},{"p":770,"v":-0.07},{"p":775,"v":-0.06},{"p":780,"v":-0.06},{"p":785,"v":-0.075},{"p":790,"v":-0.08},{"p":795,"v":-0.095},
{"p":800,"v":-0.10},{"p":805,"v":-0.115},{"p":810,"v":-0.12},{"p":815,"v":-0.1},{"p":820,"v":-0.09},{"p":825,"v":-0.07},{"p":830,"v":-0.05},{"p":835,"v":-0.045},{"p":840,"v":-0.03},{"p":845,"v":-0.04},
{"p":850,"v":-0.04},{"p":855,"v":-0.025},{"p":860,"v":-0.02},{"p":865,"v":0.0},{"p":870,"v":0.01},{"p":875,"v":0.025},{"p":880,"v":0.03},{"p":885,"v":0.01},{"p":890,"v":0.0},{"p":895,"v":-0.015},
{"p":900,"v":-0.02},{"p":905,"v":0.01},{"p":910,"v":0.04},{"p":915,"v":0.085},{"p":920,"v":0.12},{"p":925,"v":0.095},{"p":930,"v":0.07},{"p":935,"v":0.045},{"p":940,"v":0.03},{"p":945,"v":0.015},
{"p":950,"v":0.01},{"p":955,"v":-0.01},{"p":960,"v":-0.02},{"p":965,"v":-0.035},{"p":970,"v":-0.04},{"p":975,"v":-0.05},{"p":980,"v":-0.05},{"p":985,"v":-0.03},{"p":990,"v":-0.02},{"p":995,"v":-0.03},
{"p":1000,"v":-0.03},{"p":1005,"v":-0.045},{"p":1010,"v":-0.05},{"p":1015,"v":-0.075},{"p":1020,"v":-0.09},{"p":1025,"v":-0.11},{"p":1030,"v":-0.12},{"p":1035,"v":-0.135},{"p":1040,"v":-0.14},{"p":1045,"v":-0.155},
{"p":1050,"v":-0.16},{"p":1055,"v":-0.14},{"p":1060,"v":-0.12},{"p":1065,"v":-0.09},{"p":1070,"v":-0.06},{"p":1075,"v":-0.035},{"p":1080,"v":-0.01},{"p":1085,"v":0.01},{"p":1090,"v":0.03},{"p":1095,"v":0.05},
{"p":1100,"v":0.06},{"p":1105,"v":0.04},{"p":1110,"v":0.03},{"p":1115,"v":0.015},{"p":1120,"v":0.01},{"p":1125,"v":0.03},{"p":1130,"v":0.04},{"p":1135,"v":0.025},{"p":1140,"v":0.02},{"p":1145,"v":0.04},
{"p":1150,"v":0.05},{"p":1155,"v":0.035},{"p":1160,"v":0.03},{"p":1165,"v":0.06},{"p":1170,"v":0.08},{"p":1175,"v":0.095},{"p":1180,"v":0.10},{"p":1185,"v":0.06},{"p":1190,"v":0.02},{"p":1195,"v":-0.01},
{"p":1200,"v":-0.04},{"p":1205,"v":-0.05},{"p":1210,"v":-0.06},{"p":1215,"v":-0.075},{"p":1220,"v":-0.08},{"p":1225,"v":-0.06},{"p":1230,"v":-0.05},{"p":1235,"v":-0.035},{"p":1240,"v":-0.03},{"p":1245,"v":-0.045},
{"p":1250,"v":-0.05},{"p":1255,"v":-0.06},{"p":1260,"v":-0.06},{"p":1265,"v":-0.045},{"p":1270,"v":-0.04},{"p":1275,"v":-0.05},{"p":1280,"v":-0.05},{"p":1285,"v":-0.065},{"p":1290,"v":-0.07},{"p":1295,"v":-0.055},
{"p":1300,"v":-0.05},{"p":1305,"v":-0.07},{"p":1310,"v":-0.08},{"p":1315,"v":-0.095},{"p":1320,"v":-0.10},{"p":1325,"v":-0.115},{"p":1330,"v":-0.12},{"p":1335,"v":-0.135},{"p":1340,"v":-0.14},{"p":1345,"v":-0.15},
{"p":1350,"v":-0.15},{"p":1355,"v":-0.135},{"p":1360,"v":-0.14},{"p":1365,"v":-0.16},{"p":1370,"v":-0.17},{"p":1375,"v":-0.185},{"p":1380,"v":-0.19},{"p":1385,"v":-0.205},{"p":1390,"v":-0.21},{"p":1395,"v":-0.225},
{"p":1400,"v":-0.23},{"p":1405,"v":-0.24},{"p":1410,"v":-0.24},{"p":1415,"v":-0.225},{"p":1420,"v":-0.21},{"p":1425,"v":-0.18},{"p":1430,"v":-0.15},{"p":1435,"v":-0.125},{"p":1440,"v":-0.10},{"p":1445,"v":-0.08},
{"p":1450,"v":-0.07},{"p":1455,"v":-0.085},{"p":1460,"v":-0.09},{"p":1465,"v":-0.07},{"p":1470,"v":-0.06},{"p":1475,"v":-0.06},{"p":1480,"v":-0.05},{"p":1485,"v":-0.045},{"p":1490,"v":-0.03},{"p":1495,"v":-0.01},
{"p":1500,"v":0.0},{"p":1505,"v":0.025},{"p":1510,"v":0.05},{"p":1515,"v":0.07},{"p":1520,"v":0.09},{"p":1525,"v":0.11},{"p":1530,"v":0.12},{"p":1535,"v":0.095},{"p":1540,"v":0.08},{"p":1545,"v":0.095},
{"p":1550,"v":0.10},{"p":1555,"v":0.075},{"p":1560,"v":0.06},{"p":1565,"v":0.09},{"p":1570,"v":0.11},{"p":1575,"v":0.125},{"p":1580,"v":0.13},{"p":1585,"v":0.1},{"p":1590,"v":0.07},{"p":1595,"v":0.085},
{"p":1600,"v":0.09},{"p":1605,"v":0.11},{"p":1610,"v":0.12},{"p":1615,"v":0.14},{"p":1620,"v":0.15},{"p":1625,"v":0.165},{"p":1630,"v":0.17},{"p":1635,"v":0.145},{"p":1640,"v":0.12},{"p":1645,"v":0.085},
{"p":1650,"v":0.05},{"p":1655,"v":0.025},{"p":1660,"v":0.01},{"p":1665,"v":-0.015},{"p":1670,"v":-0.03},{"p":1675,"v":-0.045},{"p":1680,"v":-0.06},{"p":1685,"v":-0.08},{"p":1690,"v":-0.09},{"p":1695,"v":-0.075},
{"p":1700,"v":-0.07},{"p":1705,"v":-0.055},{"p":1710,"v":-0.05},{"p":1715,"v":-0.065},{"p":1720,"v":-0.08},{"p":1725,"v":-0.1},{"p":1730,"v":-0.11},{"p":1735,"v":-0.125},{"p":1740,"v":-0.13},{"p":1745,"v":-0.1},
{"p":1750,"v":-0.07},{"p":1755,"v":-0.035},{"p":1760,"v":0.0},{"p":1765,"v":0.03},{"p":1770,"v":0.06},{"p":1775,"v":0.09},{"p":1780,"v":0.12},{"p":1785,"v":0.135},{"p":1790,"v":0.14},{"p":1795,"v":0.12},
{"p":1800,"v":0.11},{"p":1805,"v":0.12},{"p":1810,"v":0.12},{"p":1815,"v":0.1},{"p":1820,"v":0.09},{"p":1825,"v":0.115},{"p":1830,"v":0.13},{"p":1835,"v":0.11},{"p":1840,"v":0.10},{"p":1845,"v":0.115},
{"p":1850,"v":0.12},{"p":1855,"v":0.095},{"p":1860,"v":0.08},{"p":1865,"v":0.095},{"p":1870,"v":0.10},{"p":1875,"v":0.085},{"p":1880,"v":0.07},{"p":1885,"v":0.065},{"p":1890,"v":0.05},{"p":1895,"v":0.035},
{"p":1900,"v":0.02},{"p":1905,"v":0.0},{"p":1910,"v":-0.02},{"p":1915,"v":-0.04},{"p":1920,"v":-0.06},{"p":1925,"v":-0.08},{"p":1930,"v":-0.10},{"p":1935,"v":-0.115},{"p":1940,"v":-0.12},{"p":1945,"v":-0.105},
{"p":1950,"v":-0.09},{"p":1955,"v":-0.075},{"p":1960,"v":-0.06},{"p":1965,"v":-0.04},{"p":1970,"v":-0.03},{"p":1975,"v":-0.04},{"p":1980,"v":-0.04},{"p":1985,"v":-0.025},{"p":1990,"v":-0.02},{"p":1995,"v":-0.03},
{"p":2.5,"v":-0.117},{"p":7.5,"v":-0.142},{"p":12.5,"v":-0.133},{"p":17.5,"v":-0.176},{"p":22.5,"v":-0.136},{"p":27.5,"v":-0.155},{"p":32.5,"v":-0.145},{"p":37.5,"v":-0.194},{"p":42.5,"v":-0.174},{"p":47.5,"v":-0.209},
{"p":52.5,"v":-0.19},{"p":57.5,"v":-0.222},{"p":62.5,"v":-0.181},{"p":67.5,"v":-0.185},{"p":72.5,"v":-0.15},{"p":77.5,"v":-0.174},{"p":82.5,"v":-0.127},{"p":87.5,"v":-0.147},{"p":92.5,"v":-0.113},{"p":97.5,"v":-0.136},
{"p":102.5,"v":-0.106},{"p":107.5,"v":-0.12},{"p":112.5,"v":-0.095},{"p":117.5,"v":-0.144},{"p":122.5,"v":-0.099},{"p":127.5,"v":-0.109},{"p":132.5,"v":-0.075},{"p":137.5,"v":-0.088},{"p":142.5,"v":-0.036},{"p":147.5,"v":-0.045},
{"p":152.5,"v":-0.005},{"p":157.5,"v":-0.019},{"p":162.5,"v":0.039},{"p":167.5,"v":0.029},{"p":172.5,"v":0.073},{"p":177.5,"v":0.065},{"p":182.5,"v":0.114},{"p":187.5,"v":0.105},{"p":192.5,"v":0.128},{"p":197.5,"v":0.074},
{"p":202.5,"v":0.084},{"p":207.5,"v":0.034},{"p":212.5,"v":0.048},{"p":217.5,"v":0.01},{"p":222.5,"v":0.019},{"p":227.5,"v":-0.03},{"p":232.5,"v":-0.022},{"p":237.5,"v":-0.071},{"p":242.5,"v":-0.052},{"p":247.5,"v":-0.092},
{"p":252.5,"v":-0.078},{"p":257.5,"v":-0.116},{"p":262.5,"v":-0.079},{"p":267.5,"v":-0.098},{"p":272.5,"v":-0.065},{"p":277.5,"v":-0.089},{"p":282.5,"v":-0.067},{"p":287.5,"v":-0.117},{"p":292.5,"v":-0.09},{"p":297.5,"v":-0.108},
{"p":302.5,"v":-0.074},{"p":307.5,"v":-0.088},{"p":312.5,"v":-0.042},{"p":317.5,"v":-0.061},{"p":322.5,"v":-0.014},{"p":327.5,"v":-0.029},{"p":332.5,"v":0.01},{"p":337.5,"v":-0.003},{"p":342.5,"v":0.044},{"p":347.5,"v":0.035},
{"p":352.5,"v":0.071},{"p":357.5,"v":0.047},{"p":362.5,"v":0.081},{"p":367.5,"v":0.046},{"p":372.5,"v":0.06},{"p":377.5,"v":0.017},{"p":382.5,"v":0.032},{"p":387.5,"v":-0.013},{"p":392.5,"v":-0.005},{"p":397.5,"v":-0.059},
{"p":402.5,"v":-0.042},{"p":407.5,"v":-0.092},{"p":412.5,"v":-0.093},{"p":417.5,"v":-0.141},{"p":422.5,"v":-0.129},{"p":427.5,"v":-0.173},{"p":432.5,"v":-0.14},{"p":437.5,"v":-0.149},{"p":442.5,"v":-0.092},{"p":447.5,"v":-0.092},
{"p":452.5,"v":-0.043},{"p":457.5,"v":-0.051},{"p":462.5,"v":0.009},{"p":467.5,"v":0.01},{"p":472.5,"v":0.058},{"p":477.5,"v":0.049},{"p":482.5,"v":0.106},{"p":487.5,"v":0.101},{"p":492.5,"v":0.145},{"p":497.5,"v":0.132},
{"p":502.5,"v":0.187},{"p":507.5,"v":0.183},{"p":512.5,"v":0.231},{"p":517.5,"v":0.217},{"p":522.5,"v":0.241},{"p":527.5,"v":0.186},{"p":532.5,"v":0.193},{"p":537.5,"v":0.155},{"p":542.5,"v":0.192},{"p":547.5,"v":0.178},
{"p":552.5,"v":0.198},{"p":557.5,"v":0.144},{"p":562.5,"v":0.151},{"p":567.5,"v":0.096},{"p":572.5,"v":0.103},{"p":577.5,"v":0.055},{"p":582.5,"v":0.062},{"p":587.5,"v":0.018},{"p":592.5,"v":0.026},{"p":597.5,"v":-0.029},
{"p":602.5,"v":-0.014},{"p":607.5,"v":-0.059},{"p":612.5,"v":-0.048},{"p":617.5,"v":-0.086},{"p":622.5,"v":-0.044},{"p":627.5,"v":-0.048},{"p":632.5,"v":0.001},{"p":637.5,"v":-0.014},{"p":642.5,"v":0.034},{"p":647.5,"v":0.014},
{"p":652.5,"v":0.048},{"p":657.5,"v":0.03},{"p":662.5,"v":0.072},{"p":667.5,"v":0.058},{"p":672.5,"v":0.096},{"p":677.5,"v":0.072},{"p":682.5,"v":0.111},{"p":687.5,"v":0.086},{"p":692.5,"v":0.115},{"p":697.5,"v":0.092},
{"p":702.5,"v":0.117},{"p":707.5,"v":0.078},{"p":712.5,"v":0.088},{"p":717.5,"v":0.039},{"p":722.5,"v":0.056},{"p":727.5,"v":0.011},{"p":732.5,"v":0.02},{"p":737.5,"v":-0.023},{"p":742.5,"v":-0.004},{"p":747.5,"v":-0.038},
{"p":752.5,"v":-0.02},{"p":757.5,"v":-0.064},{"p":762.5,"v":-0.042},{"p":767.5,"v":-0.082},{"p":772.5,"v":-0.055},{"p":777.5,"v":-0.078},{"p":782.5,"v":-0.054},{"p":787.5,"v":-0.088},{"p":792.5,"v":-0.07},{"p":797.5,"v":-0.114},
{"p":802.5,"v":-0.092},{"p":807.5,"v":-0.132},{"p":812.5,"v":-0.1},{"p":817.5,"v":-0.113},{"p":822.5,"v":-0.066},{"p":827.5,"v":-0.07},{"p":832.5,"v":-0.03},{"p":837.5,"v":-0.054},{"p":842.5,"v":-0.019},{"p":847.5,"v":-0.054},
{"p":852.5,"v":-0.023},{"p":857.5,"v":-0.041},{"p":862.5,"v":0.004},{"p":867.5,"v":-0.005},{"p":872.5,"v":0.036},{"p":877.5,"v":0.012},{"p":882.5,"v":0.036},{"p":887.5,"v":-0.009},{"p":892.5,"v":0.003},{"p":897.5,"v":-0.036},
{"p":902.5,"v":0.009},{"p":907.5,"v":0.015},{"p":912.5,"v":0.081},{"p":917.5,"v":0.087},{"p":922.5,"v":0.124},{"p":927.5,"v":0.069},{"p":932.5,"v":0.068},{"p":937.5,"v":0.02},{"p":942.5,"v":0.037},{"p":947.5,"v":0.003},
{"p":952.5,"v":0.018},{"p":957.5,"v":-0.031},{"p":962.5,"v":-0.012},{"p":967.5,"v":-0.052},{"p":972.5,"v":-0.035},{"p":977.5,"v":-0.068},{"p":982.5,"v":-0.026},{"p":987.5,"v":-0.035},{"p":992.5,"v":-0.007},{"p":997.5,"v":-0.046},
{"p":1002.5,"v":-0.022},{"p":1007.5,"v":-0.062},{"p":1012.5,"v":-0.053},{"p":1017.5,"v":-0.101},{"p":1022.5,"v":-0.086},{"p":1027.5,"v":-0.125},{"p":1032.5,"v":-0.11},{"p":1037.5,"v":-0.154},{"p":1042.5,"v":-0.132},{"p":1047.5,"v":-0.172},
{"p":1052.5,"v":-0.14},{"p":1057.5,"v":-0.148},{"p":1062.5,"v":-0.091},{"p":1067.5,"v":-0.085},{"p":1072.5,"v":-0.03},{"p":1077.5,"v":-0.039},{"p":1082.5,"v":0.016},{"p":1087.5,"v":0.006},{"p":1092.5,"v":0.05},{"p":1097.5,"v":0.037},
{"p":1102.5,"v":0.064},{"p":1107.5,"v":0.025},{"p":1112.5,"v":0.041},{"p":1117.5,"v":-0.004},{"p":1122.5,"v":0.036},{"p":1127.5,"v":0.021},{"p":1132.5,"v":0.043},{"p":1137.5,"v":0.005},{"p":1142.5,"v":0.044},{"p":1147.5,"v":0.035},
{"p":1152.5,"v":0.061},{"p":1157.5,"v":0.017},{"p":1162.5,"v":0.061},{"p":1167.5,"v":0.056},{"p":1172.5,"v":0.098},{"p":1177.5,"v":0.08},{"p":1182.5,"v":0.094},{"p":1187.5,"v":0.03},{"p":1192.5,"v":0.023},{"p":1197.5,"v":-0.041},
{"p":1202.5,"v":-0.029},{"p":1207.5,"v":-0.069},{"p":1212.5,"v":-0.058},{"p":1217.5,"v":-0.096},{"p":1222.5,"v":-0.056},{"p":1227.5,"v":-0.065},{"p":1232.5,"v":-0.025},{"p":1237.5,"v":-0.049},{"p":1242.5,"v":-0.022},{"p":1247.5,"v":-0.062},
{"p":1252.5,"v":-0.045},{"p":1257.5,"v":-0.078},{"p":1262.5,"v":-0.039},{"p":1267.5,"v":-0.053},{"p":1272.5,"v":-0.027},{"p":1277.5,"v":-0.066},{"p":1282.5,"v":-0.042},{"p":1287.5,"v":-0.082},{"p":1292.5,"v":-0.053},{"p":1297.5,"v":-0.071},
{"p":1302.5,"v":-0.046},{"p":1307.5,"v":-0.085},{"p":1312.5,"v":-0.07},{"p":1317.5,"v":-0.114},{"p":1322.5,"v":-0.092},{"p":1327.5,"v":-0.132},{"p":1332.5,"v":-0.118},{"p":1337.5,"v":-0.156},{"p":1342.5,"v":-0.131},{"p":1347.5,"v":-0.16},
{"p":1352.5,"v":-0.125},{"p":1357.5,"v":-0.154},{"p":1362.5,"v":-0.134},{"p":1367.5,"v":-0.179},{"p":1372.5,"v":-0.168},{"p":1377.5,"v":-0.206},{"p":1382.5,"v":-0.184},{"p":1387.5,"v":-0.218},{"p":1392.5,"v":-0.2},{"p":1397.5,"v":-0.244},
{"p":1402.5,"v":-0.219},{"p":1407.5,"v":-0.246},{"p":1412.5,"v":-0.223},{"p":1417.5,"v":-0.236},{"p":1422.5,"v":-0.181},{"p":1427.5,"v":-0.175},{"p":1432.5,"v":-0.12},{"p":1437.5,"v":-0.129},{"p":1442.5,"v":-0.074},{"p":1447.5,"v":-0.089},
{"p":1452.5,"v":-0.068},{"p":1457.5,"v":-0.106},{"p":1462.5,"v":-0.066},{"p":1467.5,"v":-0.075},{"p":1472.5,"v":-0.042},{"p":1477.5,"v":-0.071},{"p":1482.5,"v":-0.032},{"p":1487.5,"v":-0.052},{"p":1492.5,"v":-0.01},{"p":1497.5,"v":-0.023},
{"p":1502.5,"v":0.029},{"p":1507.5,"v":0.024},{"p":1512.5,"v":0.07},{"p":1517.5,"v":0.062},{"p":1522.5,"v":0.114},{"p":1527.5,"v":0.105},{"p":1532.5,"v":0.126},{"p":1537.5,"v":0.072},{"p":1542.5,"v":0.104},{"p":1547.5,"v":0.084},
{"p":1552.5,"v":0.098},{"p":1557.5,"v":0.05},{"p":1562.5,"v":0.089},{"p":1567.5,"v":0.09},{"p":1572.5,"v":0.136},{"p":1577.5,"v":0.112},{"p":1582.5,"v":0.131},{"p":1587.5,"v":0.071},{"p":1592.5,"v":0.088},{"p":1597.5,"v":0.07},
{"p":1602.5,"v":0.114},{"p":1607.5,"v":0.105},{"p":1612.5,"v":0.148},{"p":1617.5,"v":0.129},{"p":1622.5,"v":0.174},{"p":1627.5,"v":0.154},{"p":1632.5,"v":0.168},{"p":1637.5,"v":0.115},{"p":1642.5,"v":0.117},{"p":1647.5,"v":0.058},
{"p":1652.5,"v":0.056},{"p":1657.5,"v":0.002},{"p":1662.5,"v":0.014},{"p":1667.5,"v":-0.037},{"p":1672.5,"v":-0.028},{"p":1677.5,"v":-0.071},{"p":1682.5,"v":-0.056},{"p":1687.5,"v":-0.095},{"p":1692.5,"v":-0.065},{"p":1697.5,"v":-0.089},
{"p":1702.5,"v":-0.047},{"p":1707.5,"v":-0.067},{"p":1712.5,"v":-0.048},{"p":1717.5,"v":-0.091},{"p":1722.5,"v":-0.076},{"p":1727.5,"v":-0.115},{"p":1732.5,"v":-0.1},{"p":1737.5,"v":-0.144},{"p":1742.5,"v":-0.099},{"p":1747.5,"v":-0.099},
{"p":1752.5,"v":-0.043},{"p":1757.5,"v":-0.036},{"p":1762.5,"v":0.029},{"p":1767.5,"v":0.035},{"p":1772.5,"v":0.093},{"p":1777.5,"v":0.089},{"p":1782.5,"v":0.144},{"p":1787.5,"v":0.124},{"p":1792.5,"v":0.14},{"p":1797.5,"v":0.097},
{"p":1802.5,"v":0.129},{"p":1807.5,"v":0.11},{"p":1812.5,"v":0.128},{"p":1817.5,"v":0.079},{"p":1822.5,"v":0.119},{"p":1827.5,"v":0.109},{"p":1832.5,"v":0.13},{"p":1837.5,"v":0.087},{"p":1842.5,"v":0.122},{"p":1847.5,"v":0.108},
{"p":1852.5,"v":0.126},{"p":1857.5,"v":0.072},{"p":1862.5,"v":0.104},{"p":1867.5,"v":0.084},{"p":1872.5,"v":0.103},{"p":1877.5,"v":0.06},{"p":1882.5,"v":0.082},{"p":1887.5,"v":0.048},{"p":1892.5,"v":0.061},{"p":1897.5,"v":0.012},
{"p":1902.5,"v":0.026},{"p":1907.5,"v":-0.024},{"p":1912.5,"v":-0.02},{"p":1917.5,"v":-0.068},{"p":1922.5,"v":-0.056},{"p":1927.5,"v":-0.1},{"p":1932.5,"v":-0.09},{"p":1937.5,"v":-0.134},{"p":1942.5,"v":-0.097},{"p":1947.5,"v":-0.112},
{"p":1952.5,"v":-0.073},{"p":1957.5,"v":-0.086},{"p":1962.5,"v":-0.036},{"p":1967.5,"v":-0.045},{"p":1972.5,"v":-0.017},{"p":1977.5,"v":-0.056},{"p":1982.5,"v":-0.017},{"p":1987.5,"v":-0.037},{"p":1992.5,"v":-0.015},{"p":1997.5,"v":-0.048},
{"p":1,"v":-0.152},{"p":6,"v":-0.117},{"p":11,"v":-0.146},{"p":16,"v":-0.143},{"p":21,"v":-0.168},{"p":26,"v":-0.124},{"p":31,"v":-0.16},{"p":36,"v":-0.161},{"p":41,"v":-0.192},{"p":46,"v":-0.192},
{"p":51,"v":-0.206},{"p":56,"v":-0.198},{"p":61,"v":-0.218},{"p":66,"v":-0.164},{"p":71,"v":-0.18},{"p":76,"v":-0.151},{"p":81,"v":-0.162},{"p":86,"v":-0.127},{"p":91,"v":-0.146},{"p":96,"v":-0.103},
{"p":101,"v":-0.128},{"p":106,"v":-0.104},{"p":111,"v":-0.11},{"p":116,"v":-0.111},{"p":121,"v":-0.142},{"p":126,"v":-0.092},{"p":131,"v":-0.106},{"p":136,"v":-0.068},{"p":141,"v":-0.068},{"p":146,"v":-0.024},
{"p":151,"v":-0.04},{"p":156,"v":-0.001},{"p":161,"v":-0.002},{"p":166,"v":0.043},{"p":171,"v":0.034},{"p":176,"v":0.087},{"p":181,"v":0.082},{"p":186,"v":0.126},{"p":191,"v":0.11},{"p":196,"v":0.114},
{"p":201,"v":0.068},{"p":206,"v":0.063},{"p":211,"v":0.024},{"p":216,"v":0.047},{"p":221,"v":0.012},{"p":226,"v":0.006},{"p":231,"v":-0.04},{"p":236,"v":-0.036},{"p":241,"v":-0.072},{"p":246,"v":-0.067},
{"p":251,"v":-0.096},{"p":256,"v":-0.083},{"p":261,"v":-0.108},{"p":266,"v":-0.069},{"p":271,"v":-0.1},{"p":276,"v":-0.061},{"p":281,"v":-0.082},{"p":286,"v":-0.087},{"p":291,"v":-0.126},{"p":296,"v":-0.078},
{"p":301,"v":-0.098},{"p":306,"v":-0.069},{"p":311,"v":-0.08},{"p":316,"v":-0.036},{"p":321,"v":-0.052},{"p":326,"v":-0.012},{"p":331,"v":-0.026},{"p":336,"v":0.022},{"p":341,"v":0.012},{"p":346,"v":0.056},
{"p":351,"v":0.04},{"p":356,"v":0.069},{"p":361,"v":0.058},{"p":366,"v":0.068},{"p":371,"v":0.044},{"p":376,"v":0.052},{"p":381,"v":0.022},{"p":386,"v":0.021},{"p":391,"v":-0.02},{"p":396,"v":-0.021},
{"p":401,"v":-0.062},{"p":406,"v":-0.057},{"p":411,"v":-0.106},{"p":416,"v":-0.103},{"p":421,"v":-0.138},{"p":426,"v":-0.139},{"p":431,"v":-0.18},{"p":436,"v":-0.131},{"p":441,"v":-0.132},{"p":446,"v":-0.087},
{"p":451,"v":-0.076},{"p":456,"v":-0.033},{"p":461,"v":-0.028},{"p":466,"v":0.026},{"p":471,"v":0.02},{"p":476,"v":0.064},{"p":481,"v":0.068},{"p":486,"v":0.108},{"p":491,"v":0.114},{"p":496,"v":0.152},
{"p":501,"v":0.152},{"p":506,"v":0.201},{"p":511,"v":0.19},{"p":516,"v":0.239},{"p":521,"v":0.228},{"p":526,"v":0.218},{"p":531,"v":0.174},{"p":536,"v":0.187},{"p":541,"v":0.162},{"p":546,"v":0.201},
{"p":551,"v":0.18},{"p":556,"v":0.184},{"p":561,"v":0.138},{"p":566,"v":0.128},{"p":571,"v":0.084},{"p":576,"v":0.097},{"p":581,"v":0.052},{"p":586,"v":0.051},{"p":591,"v":0.01},{"p":596,"v":0.009},
{"p":601,"v":-0.032},{"p":606,"v":-0.032},{"p":611,"v":-0.066},{"p":616,"v":-0.053},{"p":621,"v":-0.078},{"p":626,"v":-0.029},{"p":631,"v":-0.04},{"p":636,"v":0.009},{"p":641,"v":-0.002},{"p":646,"v":0.033},
{"p":651,"v":0.014},{"p":656,"v":0.057},{"p":661,"v":0.042},{"p":666,"v":0.081},{"p":671,"v":0.06},{"p":676,"v":0.099},{"p":681,"v":0.078},{"p":686,"v":0.108},{"p":691,"v":0.084},{"p":696,"v":0.122},
{"p":701,"v":0.102},{"p":706,"v":0.111},{"p":711,"v":0.07},{"p":716,"v":0.074},{"p":721,"v":0.038},{"p":726,"v":0.038},{"p":731,"v":0.004},{"p":736,"v":0.012},{"p":741,"v":-0.018},{"p":746,"v":-0.009},
{"p":751,"v":-0.04},{"p":756,"v":-0.031},{"p":761,"v":-0.062},{"p":766,"v":-0.057},{"p":771,"v":-0.086},{"p":776,"v":-0.048},{"p":781,"v":-0.068},{"p":786,"v":-0.059},{"p":791,"v":-0.09},{"p":796,"v":-0.081},
{"p":801,"v":-0.112},{"p":806,"v":-0.107},{"p":811,"v":-0.136},{"p":816,"v":-0.088},{"p":821,"v":-0.098},{"p":826,"v":-0.054},{"p":831,"v":-0.06},{"p":836,"v":-0.031},{"p":841,"v":-0.042},{"p":846,"v":-0.032},
{"p":851,"v":-0.056},{"p":856,"v":-0.013},{"p":861,"v":-0.028},{"p":866,"v":0.016},{"p":871,"v":0.0},{"p":876,"v":0.039},{"p":881,"v":0.018},{"p":886,"v":0.018},{"p":891,"v":-0.016},{"p":896,"v":-0.003},
{"p":901,"v":-0.028},{"p":906,"v":0.026},{"p":911,"v":0.03},{"p":916,"v":0.099},{"p":921,"v":0.108},{"p":926,"v":0.103},{"p":931,"v":0.054},{"p":936,"v":0.057},{"p":941,"v":0.022},{"p":946,"v":0.031},
{"p":951,"v":0.0},{"p":956,"v":0.004},{"p":961,"v":-0.032},{"p":966,"v":-0.027},{"p":971,"v":-0.056},{"p":976,"v":-0.038},{"p":981,"v":-0.058},{"p":986,"v":-0.014},{"p":991,"v":-0.03},{"p":996,"v":-0.016},
{"p":1001,"v":-0.042},{"p":1006,"v":-0.037},{"p":1011,"v":-0.066},{"p":1016,"v":-0.063},{"p":1021,"v":-0.098},{"p":1026,"v":-0.094},{"p":1031,"v":-0.13},{"p":1036,"v":-0.121},{"p":1041,"v":-0.152},{"p":1046,"v":-0.147},
{"p":1051,"v":-0.176},{"p":1056,"v":-0.128},{"p":1061,"v":-0.128},{"p":1066,"v":-0.074},{"p":1071,"v":-0.07},{"p":1076,"v":-0.021},{"p":1081,"v":-0.022},{"p":1086,"v":0.018},{"p":1091,"v":0.014},{"p":1096,"v":0.062},
{"p":1101,"v":0.052},{"p":1106,"v":0.056},{"p":1111,"v":0.02},{"p":1116,"v":0.029},{"p":1121,"v":-0.002},{"p":1126,"v":0.038},{"p":1131,"v":0.024},{"p":1136,"v":0.037},{"p":1141,"v":0.012},{"p":1146,"v":0.056},
{"p":1151,"v":0.04},{"p":1156,"v":0.049},{"p":1161,"v":0.018},{"p":1166,"v":0.068},{"p":1171,"v":0.064},{"p":1176,"v":0.107},{"p":1181,"v":0.092},{"p":1186,"v":0.076},{"p":1191,"v":0.01},{"p":1196,"v":0.004},
{"p":1201,"v":-0.052},{"p":1206,"v":-0.042},{"p":1211,"v":-0.076},{"p":1216,"v":-0.063},{"p":1221,"v":-0.088},{"p":1226,"v":-0.044},{"p":1231,"v":-0.06},{"p":1236,"v":-0.021},{"p":1241,"v":-0.042},{"p":1246,"v":-0.037},
{"p":1251,"v":-0.066},{"p":1256,"v":-0.048},{"p":1261,"v":-0.068},{"p":1266,"v":-0.029},{"p":1271,"v":-0.05},{"p":1276,"v":-0.036},{"p":1281,"v":-0.062},{"p":1286,"v":-0.057},{"p":1291,"v":-0.086},{"p":1296,"v":-0.043},
{"p":1301,"v":-0.058},{"p":1306,"v":-0.054},{"p":1311,"v":-0.09},{"p":1316,"v":-0.081},{"p":1321,"v":-0.112},{"p":1326,"v":-0.107},{"p":1331,"v":-0.136},{"p":1336,"v":-0.123},{"p":1341,"v":-0.148},{"p":1346,"v":-0.134},
{"p":1351,"v":-0.16},{"p":1356,"v":-0.121},{"p":1361,"v":-0.152},{"p":1366,"v":-0.152},{"p":1371,"v":-0.186},{"p":1376,"v":-0.173},{"p":1381,"v":-0.198},{"p":1386,"v":-0.189},{"p":1391,"v":-0.22},{"p":1396,"v":-0.211},
{"p":1401,"v":-0.242},{"p":1406,"v":-0.232},{"p":1411,"v":-0.246},{"p":1416,"v":-0.213},{"p":1421,"v":-0.218},{"p":1426,"v":-0.164},{"p":1431,"v":-0.16},{"p":1436,"v":-0.111},{"p":1441,"v":-0.112},{"p":1446,"v":-0.072},
{"p":1451,"v":-0.086},{"p":1456,"v":-0.073},{"p":1461,"v":-0.098},{"p":1466,"v":-0.054},{"p":1471,"v":-0.07},{"p":1476,"v":-0.046},{"p":1481,"v":-0.062},{"p":1486,"v":-0.037},{"p":1491,"v":-0.046},{"p":1496,"v":0.002},
{"p":1501,"v":-0.008},{"p":1506,"v":0.041},{"p":1511,"v":0.04},{"p":1516,"v":0.084},{"p":1521,"v":0.078},{"p":1526,"v":0.118},{"p":1531,"v":0.104},{"p":1536,"v":0.107},{"p":1541,"v":0.072},{"p":1546,"v":0.111},
{"p":1551,"v":0.09},{"p":1556,"v":0.089},{"p":1561,"v":0.048},{"p":1566,"v":0.098},{"p":1571,"v":0.094},{"p":1576,"v":0.137},{"p":1581,"v":0.122},{"p":1586,"v":0.116},{"p":1591,"v":0.06},{"p":1596,"v":0.099},
{"p":1601,"v":0.078},{"p":1606,"v":0.118},{"p":1611,"v":0.104},{"p":1616,"v":0.152},{"p":1621,"v":0.142},{"p":1626,"v":0.181},{"p":1631,"v":0.16},{"p":1636,"v":0.159},{"p":1641,"v":0.108},{"p":1646,"v":0.093},
{"p":1651,"v":0.034},{"p":1656,"v":0.037},{"p":1661,"v":0.002},{"p":1666,"v":0.001},{"p":1671,"v":-0.04},{"p":1676,"v":-0.031},{"p":1681,"v":-0.072},{"p":1686,"v":-0.072},{"p":1691,"v":-0.106},{"p":1696,"v":-0.063},
{"p":1701,"v":-0.078},{"p":1706,"v":-0.039},{"p":1711,"v":-0.06},{"p":1716,"v":-0.051},{"p":1721,"v":-0.092},{"p":1726,"v":-0.092},{"p":1731,"v":-0.126},{"p":1736,"v":-0.113},{"p":1741,"v":-0.138},{"p":1746,"v":-0.084},
{"p":1751,"v":-0.08},{"p":1756,"v":-0.021},{"p":1761,"v":-0.012},{"p":1766,"v":0.038},{"p":1771,"v":0.044},{"p":1776,"v":0.102},{"p":1781,"v":0.112},{"p":1786,"v":0.151},{"p":1791,"v":0.13},{"p":1796,"v":0.134},
{"p":1801,"v":0.098},{"p":1806,"v":0.128},{"p":1811,"v":0.104},{"p":1816,"v":0.112},{"p":1821,"v":0.082},{"p":1826,"v":0.131},{"p":1831,"v":0.12},{"p":1836,"v":0.124},{"p":1841,"v":0.088},{"p":1846,"v":0.123},
{"p":1851,"v":0.104},{"p":1856,"v":0.107},{"p":1861,"v":0.072},{"p":1866,"v":0.111},{"p":1871,"v":0.09},{"p":1876,"v":0.099},{"p":1881,"v":0.058},{"p":1886,"v":0.073},{"p":1891,"v":0.034},{"p":1896,"v":0.047},
{"p":1901,"v":0.012},{"p":1906,"v":0.016},{"p":1911,"v":-0.03},{"p":1916,"v":-0.026},{"p":1921,"v":-0.072},{"p":1926,"v":-0.072},{"p":1931,"v":-0.116},{"p":1936,"v":-0.103},{"p":1941,"v":-0.128},{"p":1946,"v":-0.089},
{"p":1951,"v":-0.1},{"p":1956,"v":-0.061},{"p":1961,"v":-0.072},{"p":1966,"v":-0.032},{"p":1971,"v":-0.046},{"p":1976,"v":-0.028},{"p":1981,"v":-0.048},{"p":1986,"v":-0.009},{"p":1991,"v":-0.03},{"p":1996,"v":-0.016}
]
},
"encoding": {
 "x": {"field": "p", "type": "quantitative", "scale": {"domain": [-100, 2099], "nice": false, "zero": false}, "axis": {"values": [0, 250, 500, 750, 1000, 1250, 1500, 1750, 2000], "title": "Periods", "titlePadding": 2, "format": "d"}},
 "y": {"field": "v", "type": "quantitative", "scale": {"domain": [-0.363, 0.355], "nice": false, "zero": false}, "axis": {"values": [-0.3, -0.2, -0.1, 0, 0.1, 0.2, 0.3], "format": ".1f", "title": "Correlation", "titleX": -24.5, "titleY": 107, "titleAlign": "center", "titleBaseline": "middle", "titleAngle": -90}}
},
"layer": [
 {"data": {"name": "random"}, "mark": {"type": "point", "filled": true, "size": 5, "opacity": 1}, "encoding": {"color": {"datum": "Random", "scale": {"domain": ["Random", "Online"], "range": ["#ff7f0e", "#1f77b4"]}}}},
 {"data": {"name": "online"}, "mark": {"type": "point", "filled": true, "size": 5, "opacity": 1}, "encoding": {"color": {"datum": "Online"}}}
]
}
